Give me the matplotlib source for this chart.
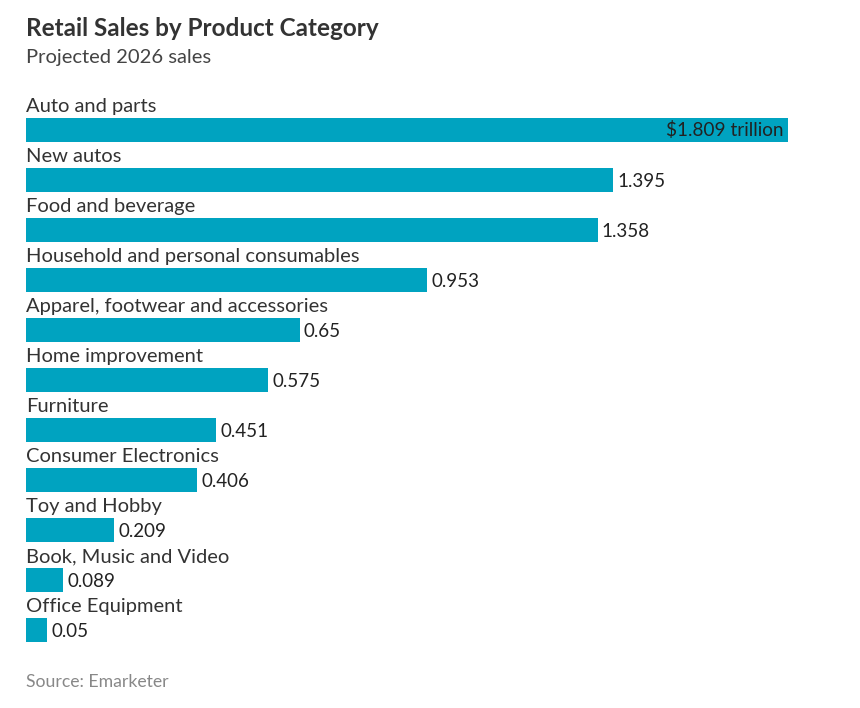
import numpy as np
import matplotlib
matplotlib.use('Agg')
import matplotlib.pyplot as plt

categories = ['Auto and parts', 'New autos', 'Food and beverage',
              'Household and personal consumables',
              'Apparel, footwear and accessories', 'Home improvement',
              'Furniture', 'Consumer Electronics', 'Toy and Hobby',
              'Book, Music and Video', 'Office Equipment']
sales = [1.809, 1.395, 1.358, 0.953, 0.65, 0.575, 0.451, 0.406, 0.209, 0.089, 0.05]
value_labels = ['$1.809 trillion', '1.395', '1.358', '0.953', '0.65', '0.575',
                '0.451', '0.406', '0.209', '0.089', '0.05']


def main():
    plt.rcParams['font.family'] = ['Lato', 'DejaVu Sans']
    W, H = 860, 708
    fig = plt.figure(figsize=(W / 100, H / 100), dpi=100)

    bar_color = '#00A3C0'
    text_color = '#222222'

    # axes in pixel terms: left 26px, 421 px per unit, rows 50px apart
    left, right = 26, 850
    top, bottom = 80, 655
    ax = fig.add_axes([left / W, 1 - bottom / H, (right - left) / W, (bottom - top) / H])
    ax.set_xlim(0, (right - left) / 421.0)
    ax.set_ylim(10.5, -1.0)
    ax.axis('off')

    y = np.arange(len(categories))
    ax.barh(y, sales, height=0.48, color=bar_color, edgecolor='none')

    for i, (cat, v, lbl) in enumerate(zip(categories, sales, value_labels)):
        ax.text(0, i - 0.36, cat, fontsize=14.5, color='#333333', va='baseline', ha='left')
        if i == 0:
            ax.annotate(lbl, (v, i), xytext=(-3, 0), textcoords='offset points',
                        ha='right', va='center', fontsize=13.7, color=text_color)
        else:
            ax.annotate(lbl, (v, i), xytext=(3, -1), textcoords='offset points',
                        ha='left', va='center', fontsize=13.5, color=text_color)

    fig.text(26 / W, 1 - 36 / H, 'Retail Sales by Product Category', fontsize=17.5,
             fontweight='bold', color='#333333', va='baseline')
    fig.text(26 / W, 1 - 63 / H, 'Projected 2026 sales', fontsize=14.5,
             color='#444444', va='baseline')
    fig.text(26 / W, 1 - 687 / H, 'Source: Emarketer', fontsize=12.7,
             color='#888888', va='baseline')

    fig.savefig('out.png', dpi=100)


if __name__ == "__main__":
    main()
